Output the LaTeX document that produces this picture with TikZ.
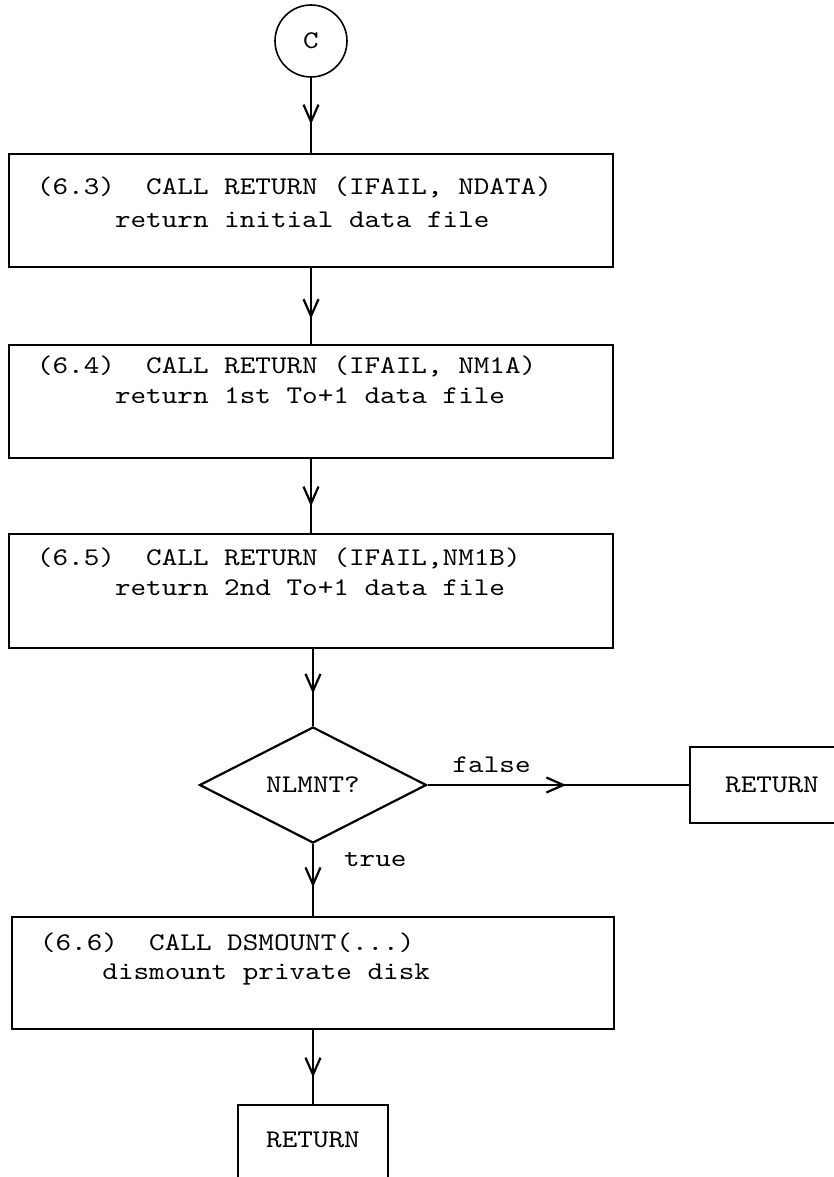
\documentclass[tikz,border=0pt]{standalone}
\usepackage{fontspec}
\setmonofont{lmmono10-regular.otf}[FakeStretch=1.17]
\usetikzlibrary{shapes.geometric,arrows.meta,decorations.markings}

% text of a process box: width, height, first baseline, line spacing, line one, line two
\newcommand\procbox[6]{\parbox[c][#2][t]{#1}{\frenchspacing\lineskiplimit=-100pt\baselineskip=#4\relax
  \rule{0pt}{#3}\hspace*{28pt}#5\\\hspace*{28pt}#6}}
% indent by a number of character cells
\newcommand\ind[1]{\hspace*{#1\fontcharwd\font`x}}

\begin{document}
\begin{tikzpicture}[x=1pt,y=-1pt,
  every node/.style={font=\ttfamily\fontsize{25.4}{30}\selectfont, inner sep=0pt},
  proc/.style={draw, rectangle, line width=2.2pt},
  term/.style={draw, rectangle, line width=2.2pt},
  decision/.style={draw, diamond, line width=2.2pt, minimum width=227pt, minimum height=116pt},
  conn/.style={draw, circle, line width=1.6pt, minimum size=72pt},
  flow/.style={line width=2.2pt, postaction={decorate},
    decoration={markings, mark=at position #1 with {\arrow{Straight Barb[length=17pt,width=15pt]}}}},
  lbl/.style={}
]
\clip (0,0) rectangle (834,1177);

% connector and process steps
\node[conn] (c) at (311,41) {C};

\node[proc] (b1) at (311,210.5)
  {\procbox{604pt}{113pt}{40pt}{33pt}{(6.3)~~CALL RETURN (IFAIL, NDATA)}{\ind{5}return initial data file}};
\node[proc] (b2) at (311,401.5)
  {\procbox{604pt}{113pt}{28pt}{30pt}{(6.4)~~CALL RETURN (IFAIL, NM1A)}{\ind{5}return 1st To+1 data file}};
\node[proc] (b3) at (311,591)
  {\procbox{604pt}{114pt}{31pt}{30pt}{(6.5)~~CALL RETURN (IFAIL,NM1B)}{\ind{5}return 2nd To+1 data file}};

\node[decision] (d) at (313,785) {NLMNT?};
\node[term, minimum width=164pt, minimum height=76pt] (r1) at (772,785) {RETURN};

\node[proc] (b4) at (313,973)
  {\procbox{602pt}{112pt}{33pt}{29pt}{(6.6)~~CALL DSMOUNT(...)}{\ind{4}dismount private disk}};
\node[term, anchor=north, minimum width=150pt, text height=42pt, text depth=70pt] (r2) at (313,1104) {RETURN};

% flow lines
\draw[flow=0.62] (c.south) -- (b1.north);
\draw[flow=0.67] (b1.south) -- (b2.north);
\draw[flow=0.64] (b2.south) -- (b3.north);
\draw[flow=0.58] (b3.south -| d.north) -- (d.north);
\draw[flow=0.53] (d.east) -- node[lbl, pos=0.245, anchor=base, yshift=13pt] (lf) {false} (r1.west);
\draw[flow=0.6] (d.south) -- node[lbl, pos=0.31, anchor=base west, xshift=30pt] (lt) {true} (b4.north);
\draw[flow=0.64] (b4.south) -- (r2.north);
\end{tikzpicture}
\end{document}
